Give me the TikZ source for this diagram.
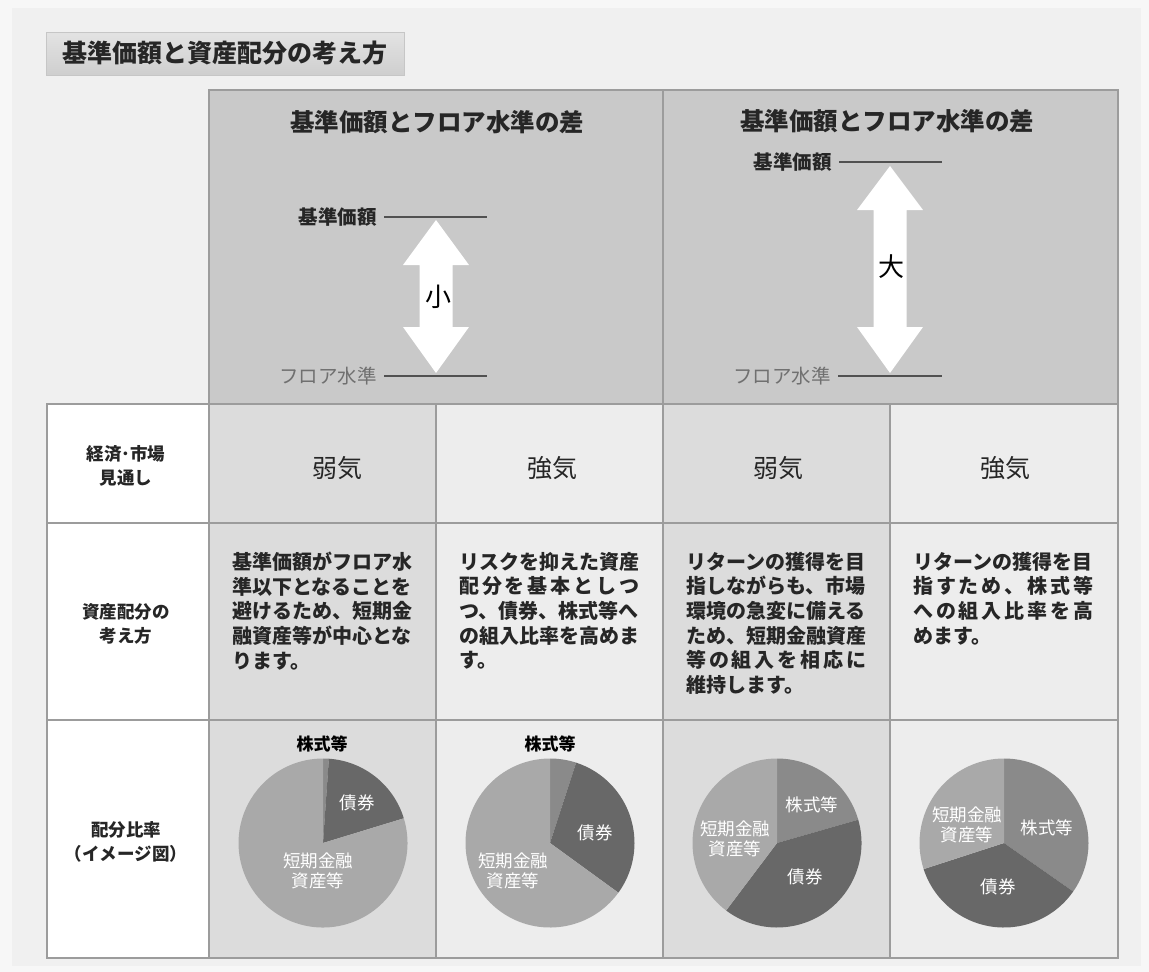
\documentclass[tikz,border=0pt]{standalone}
\usepackage{fontspec}
\setmainfont{Noto Sans CJK JP}
\usetikzlibrary{calc}
\definecolor{bgouter}{HTML}{F7F7F7}
\definecolor{bgpanel}{HTML}{F0F0F0}
\definecolor{hdr}{HTML}{C9C9C9}
\definecolor{cola}{HTML}{DCDCDC}
\definecolor{colb}{HTML}{EDEDED}
\definecolor{gridc}{HTML}{9C9C9C}
\definecolor{txtdark}{HTML}{262626}
\definecolor{floorc}{HTML}{707070}
\definecolor{stockc}{HTML}{8A8A8A}
\definecolor{bondc}{HTML}{686868}
\definecolor{cashc}{HTML}{A9A9A9}
\newcommand{\pslice}[4]{\fill[#4] #1 -- ++({-(#2)}:84.5) arc[start angle={-(#2)}, end angle={-(#3)}, radius=84.5] -- cycle;}
\newcommand{\spr}[1]{\makebox[180pt][l]{#1}}
\begin{document}
\begin{tikzpicture}[x=1pt,y=-1pt,
  gridline/.style={draw=gridc, line width=1.3pt},
  hdrtitle/.style={font=\fontsize{24.5}{28}\selectfont\bfseries, text=txtdark, inner sep=0},
  kijun/.style={font=\fontsize{19.5}{22}\selectfont\bfseries, text=txtdark, anchor=east, inner sep=0},
  floorlbl/.style={font=\fontsize{19.5}{22}\selectfont, text=floorc, anchor=east, inner sep=0},
  levelline/.style={draw=txtdark!80, line width=1.2pt},
  bigarrow/.style={fill=white},
  sizelbl/.style={font=\fontsize{26}{30}\selectfont, text=black, inner sep=0},
  rowlbl/.style={font=\fontsize{17.5}{24}\selectfont\bfseries, text=txtdark, align=center, inner sep=0},
  mood/.style={font=\fontsize{25}{28}\selectfont, text=txtdark, inner sep=0},
  body/.style={font=\fontsize{20}{24.6}\selectfont\bfseries, text=txtdark, align=left, anchor=north west, inner sep=0, text width=184pt},
  pielbl/.style={font=\fontsize{17.5}{20}\selectfont, text=white, align=center, inner sep=0},
  pietop/.style={font=\fontsize{17}{20}\selectfont\bfseries, text=black, inner sep=0}
]
\useasboundingbox (0,0) rectangle (1149,972);
\fill[bgouter] (0,0) rectangle (1149,972);
\fill[bgpanel] (12,8) rectangle (1141,966);

% title
\node[draw=gray!45, top color=gray!22, bottom color=gray!38, minimum width=358pt, minimum height=43pt, inner sep=0,
  font=\fontsize{25}{28}\selectfont\bfseries, text=txtdark] (title) at (225,53.5) {基準価額と資産配分の考え方};

% backgrounds
\fill[hdr] (209,90) rectangle (1118,404);
\fill[white] (47,404) rectangle (209,958);
\fill[cola] (209,404) rectangle (436,958);
\fill[colb] (436,404) rectangle (663,958);
\fill[cola] (663,404) rectangle (890,958);
\fill[colb] (890,404) rectangle (1118,958);

% grid
\draw[gridline] (209,90) rectangle (1118,404);
\draw[gridline] (663,90) -- (663,404);
\draw[gridline] (47,404) rectangle (1118,958);
\foreach \x in {209,436,663,890} \draw[gridline] (\x,404) -- (\x,958);
\foreach \y in {523,720} \draw[gridline] (47,\y) -- (1118,\y);

% header left
\node[hdrtitle] (h1) at (437,122) {基準価額とフロア水準の差};
\node[kijun] (k1) at (377,217) {基準価額};
\coordinate (k1e) at (487,217);
\draw[levelline] ([xshift=7pt]k1.east) -- (k1e);
\node[floorlbl] (f1) at (377,376) {フロア水準};
\coordinate (f1e) at (487,376);
\draw[levelline] ([xshift=7pt]f1.east) -- (f1e);
\fill[bigarrow] (436,220) -- (469,265) -- (452.5,265) -- (452.5,327) -- (469,327) -- (436,373)
  -- (403,327) -- (419.5,327) -- (419.5,265) -- (403,265) -- cycle;
\node[sizelbl] (s1) at (438,297) {小};

% header right
\node[hdrtitle] (h2) at (887,121) {基準価額とフロア水準の差};
\node[kijun] (k2) at (832,162) {基準価額};
\coordinate (k2e) at (942,162);
\draw[levelline] ([xshift=7pt]k2.east) -- (k2e);
\node[floorlbl] (f2) at (831,376) {フロア水準};
\coordinate (f2e) at (942,376);
\draw[levelline] ([xshift=7pt]f2.east) -- (f2e);
\fill[bigarrow] (890,166) -- (923,210) -- (906.5,210) -- (906.5,327) -- (923,327) -- (890,373)
  -- (857,327) -- (873.5,327) -- (873.5,210) -- (857,210) -- cycle;
\node[sizelbl] (s2) at (891,267) {大};

% row labels
\node[rowlbl] (r1) at (126,466) {経済･市場\\見通し};
\node[rowlbl] (r2) at (126,624) {資産配分の\\考え方};
\node[rowlbl] (r3) at (126,842) {配分比率\\（イメージ図）};

% mood row
\node[mood] (m1) at (337,468) {弱気};
\node[mood] (m2) at (552,468) {強気};
\node[mood] (m3) at (778,468) {弱気};
\node[mood] (m4) at (1005,468) {強気};

% body text
\node[body] (b1) at (232,552) {基準価額がフロア水\\準以下となることを\\避けるため、短期金\\融資産等が中心とな\\ります。};
\node[body] (b2) at (459,552) {リスクを抑えた資産\\\spr{配\hfill 分\hfill を\hfill 基\hfill 本\hfill と\hfill し\hfill つ}\\つ、債券、株式等へ\\の組入比率を高めま\\す。};
\node[body] (b3) at (686,552) {リターンの獲得を目\\指しながらも、市場\\環境の急変に備える\\ため、短期金融資産\\\spr{等\hfill の\hfill 組\hfill 入\hfill を\hfill 相\hfill 応\hfill に}\\維持します。};
\node[body] (b4) at (913,552) {リターンの獲得を目\\\spr{指\hfill す\hfill た\hfill め\hfill 、\hfill 株\hfill 式\hfill 等}\\\spr{へ\hfill の\hfill 組\hfill 入\hfill 比\hfill 率\hfill を\hfill 高}\\めます。};

% pies
\coordinate (p1) at (323,843);
\coordinate (p2) at (550,843);
\coordinate (p3) at (777,843);
\coordinate (p4) at (1004,843);
\pslice{(p1)}{90}{86}{stockc}
\pslice{(p1)}{86}{17}{bondc}
\pslice{(p1)}{17}{-270}{cashc}
\pslice{(p2)}{90}{72}{stockc}
\pslice{(p2)}{72}{-36}{bondc}
\pslice{(p2)}{-36}{-270}{cashc}
\pslice{(p3)}{90}{16}{stockc}
\pslice{(p3)}{16}{-127}{bondc}
\pslice{(p3)}{-127}{-270}{cashc}
\pslice{(p4)}{90}{-35}{stockc}
\pslice{(p4)}{-35}{-162}{bondc}
\pslice{(p4)}{-162}{-270}{cashc}

\node[pietop] (t1) at (322,744) {株式等};
\node[pietop] (t2) at (550,744) {株式等};
\node[pielbl] (l1b) at (357,803) {債券};
\node[pielbl] (l1c) at (318,871) {短期金融\\資産等};
\node[pielbl] (l2b) at (595,833) {債券};
\node[pielbl] (l2c) at (513,871) {短期金融\\資産等};
\node[pielbl] (l3s) at (812,805) {株式等};
\node[pielbl] (l3b) at (805,877) {債券};
\node[pielbl] (l3c) at (735,839) {短期金融\\資産等};
\node[pielbl] (l4s) at (1047,828) {株式等};
\node[pielbl] (l4b) at (998,887) {債券};
\node[pielbl] (l4c) at (967,825) {短期金融\\資産等};
\end{tikzpicture}
\end{document}
